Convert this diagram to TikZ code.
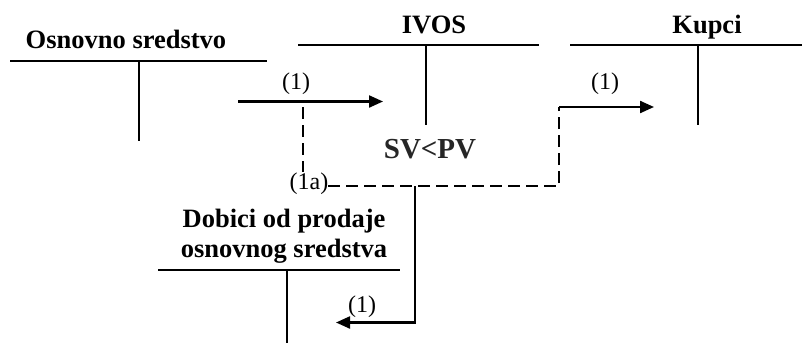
\documentclass[tikz,border=0pt]{standalone}
\usepackage{fontspec}
\setmainfont{Liberation Serif}
\usetikzlibrary{arrows.meta}
\begin{document}
\begin{tikzpicture}[x=1pt,y=-1pt,
  acct/.style={line width=1.6pt},
  title/.style={font=\fontsize{26.5}{30}\selectfont\bfseries, anchor=base, inner sep=0pt, align=center},
  lbl/.style={font=\fontsize{24}{28}\selectfont, anchor=base, inner sep=0pt},
  flow/.style={line width=2.2pt, -{Triangle[length=14pt,width=12pt]}},
  dashflow/.style={line width=1.8pt, dash pattern=on 12pt off 6pt}]
\useasboundingbox (0,0) rectangle (802,343);

% Osnovno sredstvo
\node[title] (osT) at (126,48) {Osnovno sredstvo};
\coordinate (osL) at (10,61); \coordinate (osR) at (267,61);
\coordinate (osA) at (139,61); \coordinate (osB) at (139,141);
\draw[acct] (osL) -- (osR);
\draw[acct] (osA) -- (osB);

% IVOS
\node[title] (ivT) at (434,33) {IVOS};
\coordinate (ivL) at (298,45); \coordinate (ivR) at (539,45);
\coordinate (ivA) at (426,45); \coordinate (ivB) at (426,125);
\draw[acct] (ivL) -- (ivR);
\draw[acct] (ivA) -- (ivB);

% Kupci
\node[title] (kuT) at (707,33) {Kupci};
\coordinate (kuL) at (570,45); \coordinate (kuR) at (802,45);
\coordinate (kuA) at (698,45); \coordinate (kuB) at (698,125);
\draw[acct] (kuL) -- (kuR);
\draw[acct] (kuA) -- (kuB);

% Dobici od prodaje osnovnog sredstva
\node[title] (doT) at (284,257) {Dobici od prodaje\\osnovnog sredstva};
\coordinate (doL) at (158,270); \coordinate (doR) at (400,270);
\coordinate (doA) at (287,270); \coordinate (doB) at (287,343);
\draw[acct] (doL) -- (doR);
\draw[acct] (doA) -- (doB);

% SV<PV
\node[font=\fontsize{29}{32}\selectfont\bfseries, text=black!85, anchor=base, inner sep=0pt] (svpv) at (430,158) {SV<PV};

% flow 1: Osnovno sredstvo -> IVOS
\coordinate (f1s) at (238,101.5); \coordinate (f1e) at (383,101.5);
\draw[flow] (f1s) -- (f1e);
\node[lbl] (l1) at (296,89) {(1)};

% dashed (1a)
\node[lbl] (l1a) at (309,189) {(1a)};
\coordinate (d1) at (303,107); \coordinate (d2) at (303,172);
\coordinate (d3) at (328,186); \coordinate (d4) at (559,186);
\coordinate (d5) at (559,107);
\draw[dashflow] (d1) -- (d2);
\draw[dashflow] (d3) -- (d4) -- (d5);

% flow to Kupci
\coordinate (f2e) at (654,107);
\draw[flow] (d5) -- (f2e);
\node[lbl] (l2) at (605,89) {(1)};

% flow to Dobici
\coordinate (f3s) at (415,186); \coordinate (f3c) at (415,322.5);
\coordinate (f3e) at (336,322.5);
\draw[flow] (f3s) -- (f3c) -- (f3e);
\node[lbl] (l3) at (362,312) {(1)};
\end{tikzpicture}
\end{document}
